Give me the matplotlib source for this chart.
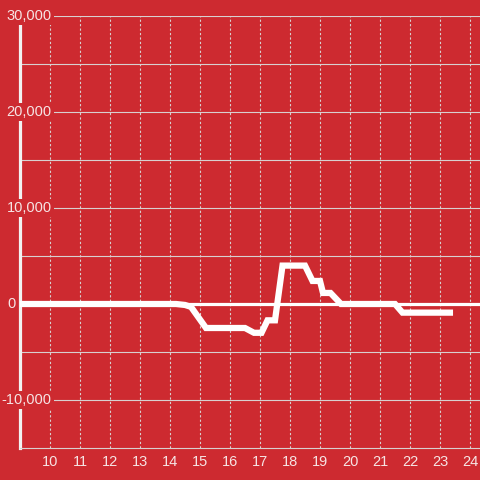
import numpy as np
import matplotlib.pyplot as plt

# Data
hours = [9.0, 14.2, 14.5, 14.7, 15.2, 16.5, 16.8, 17.05, 17.25, 17.5, 17.75,
         18.5, 18.75, 19.0, 19.1, 19.35, 19.7, 21.5, 21.75, 23.33]
values = [0, 0, -100, -300, -2500, -2500, -3000, -3000, -1700, -1700, 4000,
          4000, 2400, 2400, 1150, 1150, 0, 0, -900, -900]
x_ticks = list(range(10, 25))
y_grid = list(range(-15000, 30001, 5000))
y_labels = [-10000, 0, 10000, 20000, 30000]

bg = '#cd2a30'
grid_col = '#d8d0d0'
text_col = '#f6e4e4'

plt.rcParams['font.family'] = ['Liberation Sans', 'DejaVu Sans']

fig = plt.figure(figsize=(4.8, 4.8), dpi=100, facecolor=bg)
ax = fig.add_axes([20 / 480, 32 / 480, 460 / 480, 432 / 480], facecolor=bg)

ax.set_xlim(9, 24.333)
ax.set_ylim(-15000, 30000)

# grid lines
for v in y_grid:
    if v == 0:
        ax.axhline(0, color='white', lw=2.3, zorder=2)
    elif v > -15000:
        ax.axhline(v, color=grid_col, lw=0.8, zorder=1)
for h in x_ticks:
    ax.axvline(h, color=grid_col, lw=0.8, ls=(0, (2, 2)), zorder=1)

# the series
ax.plot(hours, values, color='white', lw=4.5, zorder=3, solid_joinstyle='miter')

# axes styling
for s in ['top', 'right']:
    ax.spines[s].set_visible(False)
ax.spines['left'].set_color('#f2f2f2')
ax.spines['left'].set_linewidth(2.3)
ax.spines['bottom'].set_color(grid_col)
ax.spines['bottom'].set_linewidth(0.8)

ax.set_xticks(x_ticks)
ax.set_xticklabels([str(t) for t in x_ticks])
ax.tick_params(axis='x', length=0, pad=5, labelsize=10.5, labelcolor=text_col)
ax.set_yticks([])

# y labels sit inside the plot with a background box
for v in y_labels:
    if v == 0:
        ax.text(8.87, v, '0', ha='right', va='center', fontsize=10.5,
                color=text_col, zorder=10, clip_on=False)
    else:
        ax.text(10.05, v, f'{v:,}', ha='right', va='center', fontsize=10.5,
                color=text_col, zorder=10,
                bbox=dict(facecolor=bg, edgecolor='none', pad=1.5))

plt.savefig('out.png', dpi=100, facecolor=bg)
